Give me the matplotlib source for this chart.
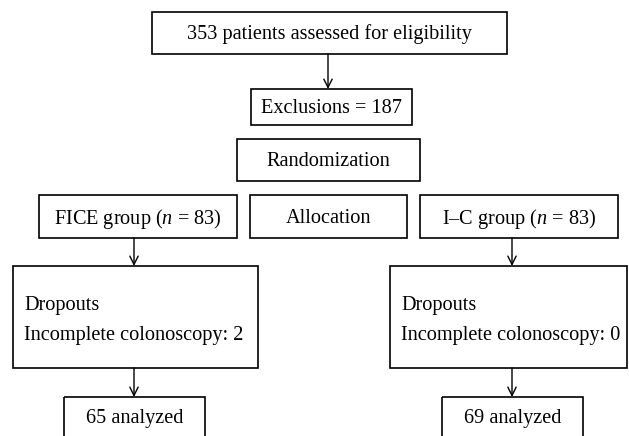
import matplotlib
matplotlib.use("Agg")
import matplotlib.pyplot as plt
from matplotlib.patches import Rectangle

plt.rcParams["font.family"] = "Liberation Serif"
plt.rcParams["mathtext.fontset"] = "custom"
plt.rcParams["mathtext.rm"] = "Liberation Serif"
plt.rcParams["mathtext.it"] = "Liberation Serif:italic"

# flow counts
assessed = 353
excluded = 187
group_names = ["FICE", "I\u2013C"]
group_n = [83, 83]
incomplete = [2, 0]
analyzed = [65, 69]

fs = 14.6

fig = plt.figure(figsize=(6.29, 4.36), dpi=100)
ax = fig.add_axes([0, 0, 1, 1])
ax.set_xlim(0, 629)
ax.set_ylim(436, 0)
ax.axis("off")


def box(x0, x1, y0, y1, text=None, ty=None):
    ax.add_patch(Rectangle((x0, y0), x1 - x0, y1 - y0, fill=False,
                           edgecolor="black", linewidth=1.2))
    if text is not None:
        if ty is None:
            ty = (y0 + y1) / 2 - 1
        ax.text((x0 + x1) / 2, ty, text, ha="center", va="center_baseline",
                fontsize=fs)


def arrow(x, y0, y1):
    ax.annotate("", xy=(x, y1), xytext=(x, y0),
                arrowprops=dict(arrowstyle="->", color="black", lw=1.0,
                                shrinkA=0, shrinkB=0, mutation_scale=15))


box(152, 507, 12, 54, "%d patients assessed for eligibility" % assessed)
arrow(328, 54, 89)
box(251, 412, 89, 125, "Exclusions = %d" % excluded)
box(237, 420, 139, 181, "Randomization")
box(250, 407, 195, 238, "Allocation")

group_x = [(39, 237), (420, 618)]
drop_x = [(13, 258), (390, 627)]
final_x = [(64, 205), (442, 583)]
arrow_x = [134, 512]

for i in range(2):
    box(group_x[i][0], group_x[i][1], 195, 238,
        "%s group ($n$ = %d)" % (group_names[i], group_n[i]))
    arrow(arrow_x[i], 238, 266)
    box(drop_x[i][0], drop_x[i][1], 266, 368)
    ax.text(drop_x[i][0] + 11, 310, "Dropouts", ha="left", va="baseline", fontsize=fs)
    ax.text(drop_x[i][0] + 11, 340, "Incomplete colonoscopy: %d" % incomplete[i],
            ha="left", va="baseline", fontsize=fs)
    arrow(arrow_x[i], 368, 397)
    # bottom boxes run off the picture
    box(final_x[i][0], final_x[i][1], 397, 450, "%d analyzed" % analyzed[i], ty=416)

fig.savefig("out.png", dpi=100)
